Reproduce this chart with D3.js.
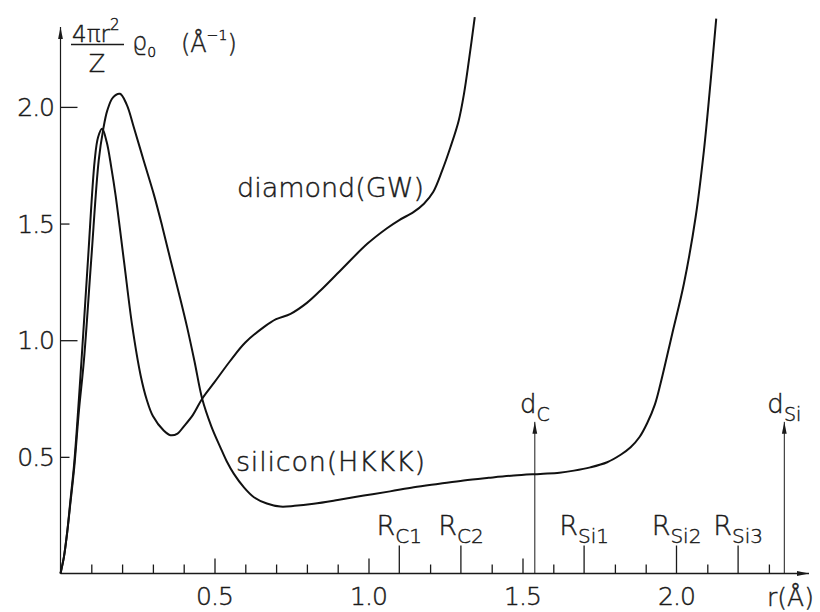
<!DOCTYPE html>
<html>
<head>
<meta charset="utf-8">
<script src="https://cdn.jsdelivr.net/npm/d3@7"></script>
<style>
  html, body { margin: 0; padding: 0; background: #fff; }
  svg text { font-family: "DejaVu Sans", sans-serif; font-weight: 200; fill: #1a1a1a; stroke: #1a1a1a; stroke-width: 0.45px; }
</style>
</head>
<body>
<svg id="chart" width="820" height="612"></svg>
<script>
// Radial valence-charge distribution 4πr²ϱ0/Z (Å⁻¹) against r (Å)

// silicon (HKKK pseudopotential)
const siliconR = [0, 0.011, 0.022, 0.032, 0.045, 0.06, 0.076, 0.0996, 0.124, 0.139, 0.152, 0.17, 0.193, 0.215, 0.238,
  0.27, 0.303, 0.33, 0.357, 0.385, 0.411, 0.435, 0.46, 0.49, 0.519, 0.54, 0.563, 0.595, 0.628, 0.67, 0.714, 0.76,
  0.822, 0.90, 0.985, 1.07, 1.147, 1.23, 1.309, 1.39, 1.472, 1.558, 1.62, 1.667, 1.72, 1.775, 1.82, 1.851, 1.88,
  1.905, 1.93, 1.948, 1.986, 2.024, 2.062, 2.089, 2.11, 2.129];
const siliconV = [0, 0.07, 0.18, 0.30, 0.46, 0.70, 0.913, 1.342, 1.77, 1.906, 1.985, 2.04, 2.056, 2.01, 1.913,
  1.77, 1.625, 1.49, 1.345, 1.198, 1.056, 0.91, 0.749, 0.63, 0.541, 0.48, 0.427, 0.37, 0.327, 0.30, 0.287, 0.29,
  0.299, 0.315, 0.334, 0.352, 0.37, 0.385, 0.399, 0.41, 0.42, 0.427, 0.432, 0.441, 0.455, 0.477, 0.51, 0.541, 0.585,
  0.645, 0.725, 0.813, 1.027, 1.242, 1.527, 1.813, 2.099, 2.378];

// diamond (GW pseudopotential)
const diamondR = [0, 0.011, 0.022, 0.032, 0.045, 0.068, 0.089, 0.111, 0.122, 0.135, 0.15, 0.165, 0.179, 0.206,
  0.233, 0.26, 0.28, 0.30, 0.335, 0.357, 0.38, 0.40, 0.43, 0.46, 0.50, 0.552, 0.60, 0.66, 0.70, 0.747, 0.80,
  0.844, 0.909, 0.996, 1.06, 1.10, 1.147, 1.18, 1.21, 1.24, 1.266, 1.293, 1.31, 1.326, 1.345];
const diamondV = [0, 0.07, 0.18, 0.31, 0.48, 0.91, 1.34, 1.77, 1.87, 1.906, 1.85, 1.74, 1.62, 1.34,
  1.06, 0.85, 0.745, 0.675, 0.613, 0.593, 0.60, 0.63, 0.68, 0.749, 0.82, 0.913, 0.99, 1.056, 1.09, 1.113, 1.16,
  1.213, 1.299, 1.413, 1.48, 1.515, 1.55, 1.585, 1.635, 1.73, 1.827, 1.942, 2.056, 2.199, 2.385];

// axis ticks
const xMinorTicks = [0.1, 0.2, 0.3, 0.4, 0.6, 0.7, 0.8, 0.9, 1.2, 1.4, 1.6, 1.8, 1.9, 2.1, 2.3];
const xMajorTicks = [0.5, 1.0, 1.5];
const xTickLabels = ["0.5", "1.0", "1.5", "2.0"];
const xLabelValues = [0.5, 1.0, 1.5, 2.0];
const yTickValues = [0.5, 1.0, 1.5, 2.0];
const yTickLabels = ["0.5", "1.0", "1.5", "2.0"];

// core radii and bond lengths marked on the r axis
const shellNames = ["C1", "C2", "Si1", "Si2", "Si3"];
const shellRadii = [1.10, 1.30, 1.70, 2.00, 2.20];
const bondNames = ["C", "Si"];
const bondLengths = [1.54, 2.35];

const svg = d3.select("#chart");
const x = d3.scaleLinear().domain([0, 2.5]).range([60.5, 60.5 + 2.5 * 308]);
const y = d3.scaleLinear().domain([0, 2.4]).range([573.5, 573.5 - 2.4 * 233.3]);
const ink = "#1a1a1a";

// arrowheads
const defs = svg.append("defs");
defs.append("marker").attr("id", "arrow").attr("viewBox", "0 0 12 6")
  .attr("refX", 12).attr("refY", 3).attr("markerWidth", 12).attr("markerHeight", 6)
  .attr("markerUnits", "userSpaceOnUse").attr("orient", "auto")
  .append("path").attr("d", "M0,0.6 L12,3 L0,5.4 Z").attr("fill", ink);

// axes lines
svg.append("line").attr("x1", x(0)).attr("x2", 809).attr("y1", y(0)).attr("y2", y(0))
  .attr("stroke", ink).attr("stroke-width", 1.3).attr("marker-end", "url(#arrow)");
svg.append("line").attr("x1", x(0)).attr("x2", x(0)).attr("y1", y(0)).attr("y2", 27)
  .attr("stroke", ink).attr("stroke-width", 1.2).attr("marker-end", "url(#arrow)");

// x ticks (drawn upward, inside the plot)
const gx = svg.append("g").attr("transform", `translate(0,${y(0)})`);
gx.call(d3.axisBottom(x).tickValues(xMinorTicks).tickSize(-9).tickFormat(""));
gx.call(g => g.select(".domain").remove());
const gx2 = svg.append("g").attr("transform", `translate(0,${y(0)})`);
gx2.call(d3.axisBottom(x).tickValues(xMajorTicks).tickSize(-15).tickFormat(""));
gx2.call(g => g.select(".domain").remove());
svg.selectAll(".tick line").attr("stroke", ink).attr("stroke-width", 1.3);

// x tick labels
svg.append("g").selectAll("text").data(xLabelValues).join("text")
  .attr("x", d => x(d)).attr("y", 605).attr("text-anchor", "middle")
  .attr("font-size", 25).attr("letter-spacing", -1)
  .text((d, i) => xTickLabels[i]);

// axis title r(Å)
svg.append("text").attr("x", 767).attr("y", 606).attr("font-size", 25).text("r(Å)");

// y ticks (pointing into the plot)
const gy = svg.append("g").attr("transform", `translate(${x(0)},0)`);
gy.call(d3.axisLeft(y).tickValues(yTickValues).tickSize(-9).tickFormat(""));
gy.call(g => g.select(".domain").remove());
gy.selectAll(".tick line").attr("stroke", ink).attr("stroke-width", 1.3)
  .attr("x2", d => (d === 1 || d === 2) ? 17 : 9);

// y tick labels
svg.append("g").selectAll("text").data(yTickValues).join("text")
  .attr("x", 54).attr("y", d => y(d) + 9).attr("text-anchor", "end")
  .attr("font-size", 25).attr("letter-spacing", -1)
  .text((d, i) => yTickLabels[i]);

// y axis title: 4πr²/Z ϱ0 (Å⁻¹)
const yt = svg.append("g");
const num = yt.append("text").attr("x", 72).attr("y", 42).attr("font-size", 23);
num.append("tspan").text("4πr");
num.append("tspan").attr("dy", -12).attr("font-size", 15).text("2");
yt.append("line").attr("x1", 71).attr("x2", 124).attr("y1", 44.5).attr("y2", 44.5)
  .attr("stroke", ink).attr("stroke-width", 1.3);
yt.append("text").attr("x", 97).attr("y", 72).attr("text-anchor", "middle").attr("font-size", 24).text("Z");
const rho = yt.append("text").attr("x", 132).attr("y", 50).attr("font-size", 24);
rho.append("tspan").text("ϱ");
rho.append("tspan").attr("dy", 7).attr("font-size", 14).text("0");
const unit = yt.append("text").attr("x", 181).attr("y", 52).attr("font-size", 24);
unit.append("tspan").text("(Å");
unit.append("tspan").attr("dy", -12).attr("font-size", 14).text("−1");
unit.append("tspan").attr("dy", 12).text(")");

// core radius markers
const shells = svg.append("g");
shells.selectAll("line").data(shellRadii).join("line")
  .attr("x1", d => x(d)).attr("x2", d => x(d))
  .attr("y1", y(0)).attr("y2", y(0) - 28)
  .attr("stroke", ink).attr("stroke-width", 1.3);
const shellText = shells.selectAll("text").data(shellRadii).join("text")
  .attr("x", d => x(d)).attr("y", 535).attr("text-anchor", "middle").attr("font-size", 27);
shellText.append("tspan").text("R");
shellText.append("tspan").attr("dy", 8).attr("font-size", 20).text((d, i) => shellNames[i]);

// bond length arrows
const bonds = svg.append("g");
bonds.selectAll("line").data(bondLengths).join("line")
  .attr("x1", d => x(d)).attr("x2", d => x(d))
  .attr("y1", y(0)).attr("y2", y(0.65))
  .attr("stroke", ink).attr("stroke-width", 1).attr("marker-end", "url(#arrow)");
const bondText = bonds.selectAll("text").data(bondLengths).join("text")
  .attr("x", d => x(d)).attr("y", 413).attr("text-anchor", "middle").attr("font-size", 26);
bondText.append("tspan").text("d");
bondText.append("tspan").attr("dy", 8).attr("font-size", 19).text((d, i) => bondNames[i]);

// curves
const line = d3.line().x(d => x(d[0])).y(d => y(d[1])).curve(d3.curveCatmullRom.alpha(0.5));
svg.append("path").datum(diamondR.map((r, i) => [r, diamondV[i]]))
  .attr("d", line).attr("fill", "none").attr("stroke", "#111").attr("stroke-width", 2);
svg.append("path").datum(siliconR.map((r, i) => [r, siliconV[i]]))
  .attr("d", line).attr("fill", "none").attr("stroke", "#111").attr("stroke-width", 2);

// curve labels
svg.append("text").attr("x", 237).attr("y", 197).attr("font-size", 27).text("diamond(GW)");
svg.append("text").attr("x", 236).attr("y", 471).attr("font-size", 27).attr("letter-spacing", 0.8).text("silicon(HKKK)");
</script>
</body>
</html>
